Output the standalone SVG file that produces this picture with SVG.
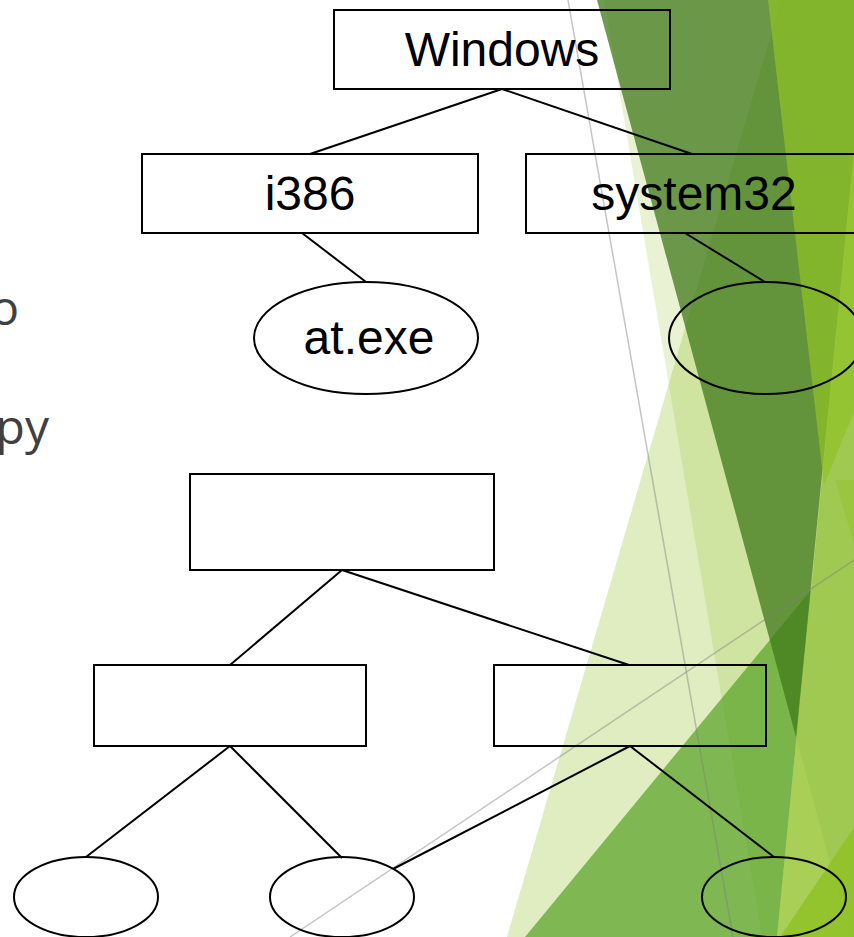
<svg xmlns="http://www.w3.org/2000/svg" width="854" height="937" viewBox="0 0 854 937">
<style>
.node{fill:none;stroke:#000;stroke-width:2}
.lbl{font-family:"Liberation Sans",Arial,sans-serif;font-size:48px;fill:#000;text-anchor:middle}
.edge{stroke:#000;stroke-width:2;fill:none}
.side{font-family:"Open Sans","DejaVu Sans",sans-serif;font-size:48px;fill:#404040;text-anchor:end}
.gl{stroke:#7f7f7f;stroke-opacity:0.45;stroke-width:1.5;fill:none}
</style>
<rect width="854" height="937" fill="#fff"/>
<g id="background">
<polygon points="604,0 900,0 900,937 762,937" fill="#90C226" fill-opacity="0.2"/>
<polygon points="781,0 900,0 900,937 507,937" fill="#90C226" fill-opacity="0.29"/>
<polygon points="869,0 900,0 900,937 777,937" fill="#90C226" fill-opacity="0.6"/>
<polygon points="597,0 900,0 900,937 850,937" fill="#54A021" fill-opacity="0.1"/>
<polygon points="525,937 811,590 777,937" fill="#54A021" fill-opacity="0.69"/>
<polygon points="597,0 869,0 796,737" fill="#3F7819" fill-opacity="0.72"/>
<polygon points="768,0 900,0 900,300 824,485" fill="#90C226" fill-opacity="0.71"/>
<polygon points="835,480 900,480 900,700" fill="#90C226" fill-opacity="0.4"/>
<polygon points="900,760 900,937 780,937" fill="#90C226" fill-opacity="0.85"/>
<line class="gl" x1="568" y1="0" x2="733" y2="937"/>
<line class="gl" x1="290" y1="937" x2="854" y2="560"/>
</g>
<g id="side-text">
<text class="side" x="19" y="325">o</text>
<text class="side" x="49" y="444">py</text>
</g>
<g id="connectors">
<line class="edge" x1="502" y1="89" x2="310" y2="154"/>
<line class="edge" x1="502" y1="89" x2="692" y2="154"/>
<line class="edge" x1="302" y1="233" x2="366" y2="282"/>
<line class="edge" x1="685" y1="233" x2="765" y2="282"/>
<line class="edge" x1="342" y1="570" x2="230" y2="665"/>
<line class="edge" x1="342" y1="570" x2="629" y2="665"/>
<line class="edge" x1="230" y1="746" x2="86" y2="857"/>
<line class="edge" x1="230" y1="746" x2="342" y2="858"/>
<line class="edge" x1="630" y1="746" x2="393" y2="869"/>
<line class="edge" x1="630" y1="746" x2="774" y2="857"/>
</g>
<g id="n-windows"><rect class="node" x="334" y="10" width="336" height="79"/><text class="lbl" x="502" y="66">Windows</text></g>
<g id="n-i386"><rect class="node" x="142" y="154" width="336" height="79"/><text class="lbl" x="310" y="210">i386</text></g>
<g id="n-system32"><rect class="node" x="526" y="154" width="336" height="79"/><text class="lbl" x="694" y="210">system32</text></g>
<g id="n-atexe"><ellipse class="node" cx="366" cy="338" rx="112" ry="56"/><text class="lbl" x="369" y="354">at.exe</text></g>
<g id="n-sys-child"><ellipse class="node" cx="766" cy="338" rx="97" ry="56"/></g>
<g id="n-root2"><rect class="node" x="190" y="474" width="304" height="96"/></g>
<g id="n-left2"><rect class="node" x="94" y="665" width="272" height="81"/></g>
<g id="n-right2"><rect class="node" x="494" y="665" width="272" height="81"/></g>
<g id="n-leaf1"><ellipse class="node" cx="86" cy="897" rx="72" ry="40"/></g>
<g id="n-leaf2"><ellipse class="node" cx="342" cy="897" rx="72" ry="40"/></g>
<g id="n-leaf3"><ellipse class="node" cx="774" cy="897" rx="72" ry="40"/></g>
</svg>
